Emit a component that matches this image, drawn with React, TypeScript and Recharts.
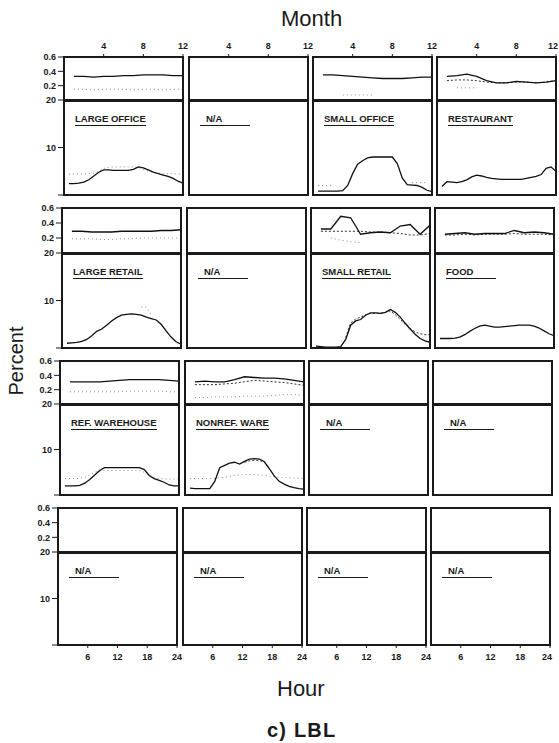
import React from 'react';
import { LineChart, Line, XAxis, YAxis } from 'recharts';

// axes
const months = [1, 2, 3, 4, 5, 6, 7, 8, 9, 10, 11, 12];
const hours = [1, 2, 3, 4, 5, 6, 7, 8, 9, 10, 11, 12, 13, 14, 15, 16, 17, 18, 19, 20, 21, 22, 23, 24];
const monthTicks = [4, 8, 12];
const hourTicks = [6, 12, 18, 24];
const shareTicks = [0.2, 0.4, 0.6];
const percentTicks = [0, 10, 20];

// LARGE OFFICE
const largeOfficeMonth = [0.33, 0.33, 0.32, 0.33, 0.33, 0.34, 0.34, 0.35, 0.35, 0.35, 0.34, 0.34];
const largeOfficeMonthDot = [0.15, 0.15, 0.14, 0.15, 0.15, 0.15, 0.14, 0.15, 0.15, 0.14, 0.15, 0.15];
const largeOfficeHour = [2.4, 2.4, 2.5, 2.7, 3.2, 4.0, 4.8, 5.3, 5.3, 5.2, 5.2, 5.2, 5.2, 5.4, 5.9, 5.7, 5.3, 4.8, 4.5, 4.2, 3.9, 3.5, 2.9, 2.5];
const largeOfficeHourDot = [4.4, 4.4, 4.4, 4.4, 4.5, 4.6, 5.0, 5.6, 5.8, 5.9, 5.9, 5.9, 5.9, 5.9, 5.8, 5.4, 5.0, 4.8, 4.6, 4.5, 4.5, 4.5, 4.4, 4.4];

// SMALL OFFICE
const smallOfficeMonth = [0.35, 0.35, 0.34, 0.33, 0.32, 0.31, 0.30, 0.30, 0.30, 0.31, 0.32, 0.32];
const smallOfficeMonthDot = [null, null, 0.07, 0.07, 0.07, 0.07, null, null, null, null, null, null];
const smallOfficeHour = [0.8, 0.8, 0.8, 0.8, 0.8, 0.9, 2.0, 4.5, 6.5, 7.2, 7.8, 8.0, 8.0, 8.0, 8.0, 8.0, 6.6, 3.6, 2.2, 2.1, 2.0, 1.6, 1.0, 0.7];
const smallOfficeHourDot = [2.0, 2.0, 2.0, 2.0, null, null, null, null, null, null, null, null, null, null, null, null, null, null, null, 2.6, 2.6, 2.6, 2.6, null];

// RESTAURANT
const restaurantMonth = [0.33, 0.34, 0.36, 0.33, 0.27, 0.24, 0.24, 0.26, 0.25, 0.24, 0.25, 0.27];
const restaurantMonthDash = [0.27, 0.28, 0.28, 0.27, 0.25, 0.24, 0.24, 0.25, 0.25, 0.24, 0.25, 0.27];
const restaurantMonthDot = [null, 0.17, 0.17, 0.17, null, null, null, null, null, null, null, null];
const restaurantHour = [1.8, 2.8, 2.7, 2.6, 2.8, 3.2, 3.8, 4.2, 4.0, 3.7, 3.5, 3.4, 3.3, 3.3, 3.3, 3.3, 3.3, 3.5, 3.7, 3.9, 4.3, 5.6, 5.9, 5.0];

// LARGE RETAIL
const largeRetailMonth = [0.29, 0.29, 0.28, 0.28, 0.28, 0.29, 0.29, 0.29, 0.29, 0.30, 0.30, 0.31];
const largeRetailMonthDot = [0.19, 0.19, 0.19, 0.18, 0.18, 0.19, 0.19, 0.2, 0.2, 0.2, 0.2, 0.2];
const largeRetailHour = [1.0, 1.1, 1.2, 1.4, 1.8, 2.6, 3.5, 4.0, 4.8, 5.7, 6.4, 6.9, 7.1, 7.2, 7.1, 6.9, 6.5, 6.2, 5.9, 5.0, 3.6, 2.3, 1.3, 0.8];
const largeRetailHourDot = [null, null, null, null, null, null, null, null, null, null, null, null, null, null, null, 8.6, 8.6, 7.0, null, null, null, null, null, null];

// SMALL RETAIL
const smallRetailMonth = [0.32, 0.32, 0.49, 0.47, 0.25, 0.27, 0.28, 0.27, 0.36, 0.38, 0.25, 0.37];
const smallRetailMonthDash = [0.29, 0.29, 0.29, 0.29, 0.29, 0.28, 0.28, 0.27, 0.26, 0.24, 0.24, 0.26];
const smallRetailMonthDot = [null, 0.2, 0.17, 0.15, 0.14, null, null, null, null, null, null, null];
const smallRetailHour = [0.4, 0.3, 0.2, 0.2, 0.2, 0.3, 1.8, 4.8, 5.7, 6.0, 6.9, 7.4, 7.4, 7.3, 7.5, 8.1, 7.5, 6.5, 5.2, 4.0, 2.9, 2.0, 1.5, 1.2];
const smallRetailHourDash = [null, null, null, null, null, null, 2.2, 5.3, 6.1, 6.5, 7.0, 7.3, 7.3, 7.3, 7.5, 7.8, 7.0, 6.0, 5.0, 4.1, 3.4, 3.0, 2.8, 2.8];

// FOOD
const foodMonth = [0.25, 0.26, 0.27, 0.25, 0.26, 0.26, 0.26, 0.30, 0.27, 0.28, 0.27, 0.25];
const foodMonthDash = [0.24, 0.24, 0.25, 0.24, 0.25, 0.25, 0.25, 0.26, 0.25, 0.25, 0.25, 0.24];
const foodHour = [2.0, 2.0, 2.0, 2.1, 2.3, 2.8, 3.5, 4.1, 4.6, 4.8, 4.6, 4.4, 4.4, 4.5, 4.6, 4.7, 4.8, 4.8, 4.8, 4.6, 4.2, 3.6, 3.0, 2.6];

// REF. WAREHOUSE
const refWareMonth = [0.31, 0.31, 0.31, 0.31, 0.32, 0.33, 0.34, 0.34, 0.34, 0.34, 0.33, 0.32];
const refWareMonthDot = [0.17, 0.17, 0.17, 0.17, 0.17, 0.17, 0.18, 0.18, 0.18, 0.18, 0.17, 0.17];
const refWareHour = [2.0, 2.0, 2.0, 2.1, 2.6, 3.4, 4.4, 5.4, 6.0, 6.0, 6.0, 6.0, 6.0, 6.0, 6.0, 6.0, 5.6, 4.3, 3.6, 3.2, 2.8, 2.2, 2.0, 2.0];
const refWareHourDot = [3.6, 3.6, 3.6, 3.7, 3.9, 4.4, 5.0, 5.3, 5.4, 5.4, 5.4, 5.4, 5.4, 5.4, 5.4, 5.4, 5.0, 4.3, 3.8, 3.6, 3.5, 3.5, 3.5, 3.5];

// NONREF. WARE
const nonrefMonth = [0.31, 0.32, 0.31, 0.31, 0.34, 0.38, 0.37, 0.36, 0.36, 0.35, 0.33, 0.31];
const nonrefMonthDash = [0.27, 0.27, 0.27, 0.28, 0.29, 0.31, 0.33, 0.32, 0.31, 0.30, 0.28, 0.26];
const nonrefMonthDot = [0.09, 0.09, 0.1, 0.1, 0.1, 0.11, 0.11, 0.11, 0.12, 0.13, 0.13, 0.12];
const nonrefHour = [1.5, 1.4, 1.4, 1.4, 1.4, 3.0, 6.0, 6.5, 7.0, 7.2, 6.8, 7.4, 7.9, 8.0, 7.9, 7.3, 5.8, 4.2, 3.0, 2.4, 1.9, 1.6, 1.4, 1.3];
const nonrefHourDash = [null, null, null, null, null, null, null, null, null, null, null, 7.2, 7.5, 7.6, 7.6, 7.2, 6.0, null, null, null, null, null, null, null];
const nonrefHourDot = [3.6, 3.6, 3.6, 3.6, 3.6, 3.7, 3.8, 3.9, 4.1, 4.3, 4.4, 4.5, 4.5, 4.5, 4.4, 4.3, 4.1, 4.0, 3.9, 3.8, 3.8, 3.7, 3.7, 3.6];

type Series = (number | null)[] | undefined;
interface PanelSpec {
  label: string;
  na?: boolean;
  mSolid?: Series; mDash?: Series; mDot?: Series;
  hSolid?: Series; hDash?: Series; hDot?: Series;
}

const NA: PanelSpec = { label: 'N/A', na: true };

const grid: PanelSpec[][] = [
  [
    { label: 'LARGE OFFICE', mSolid: largeOfficeMonth, mDot: largeOfficeMonthDot, hSolid: largeOfficeHour, hDot: largeOfficeHourDot },
    NA,
    { label: 'SMALL OFFICE', mSolid: smallOfficeMonth, mDot: smallOfficeMonthDot, hSolid: smallOfficeHour, hDot: smallOfficeHourDot },
    { label: 'RESTAURANT', mSolid: restaurantMonth, mDash: restaurantMonthDash, mDot: restaurantMonthDot, hSolid: restaurantHour },
  ],
  [
    { label: 'LARGE RETAIL', mSolid: largeRetailMonth, mDot: largeRetailMonthDot, hSolid: largeRetailHour, hDot: largeRetailHourDot },
    NA,
    { label: 'SMALL RETAIL', mSolid: smallRetailMonth, mDash: smallRetailMonthDash, mDot: smallRetailMonthDot, hSolid: smallRetailHour, hDash: smallRetailHourDash },
    { label: 'FOOD', mSolid: foodMonth, mDash: foodMonthDash, hSolid: foodHour },
  ],
  [
    { label: 'REF. WAREHOUSE', mSolid: refWareMonth, mDot: refWareMonthDot, hSolid: refWareHour, hDot: refWareHourDot },
    { label: 'NONREF. WARE', mSolid: nonrefMonth, mDash: nonrefMonthDash, mDot: nonrefMonthDot, hSolid: nonrefHour, hDash: nonrefHourDash, hDot: nonrefHourDot },
    NA,
    NA,
  ],
  [NA, NA, NA, NA],
];

// page layout (scan is slightly skewed, so rows drift left)
const colLeft = [64, 189, 313, 437];
const rowShift = [0, -2, -4, -6];
const rowBox = [
  { top: 57, mid: 100, bot: 195 },
  { top: 208, mid: 253, bot: 348 },
  { top: 361, mid: 404, bot: 495 },
  { top: 508, mid: 552, bot: 645 },
];
const PANEL_W = 119;
const FONT = '"Liberation Sans", Arial, sans-serif';
const INK = '#1a1a1a';

const build = (xs: number[], solid: Series, dash: Series, dot: Series) =>
  xs.map((x, i) => ({
    x,
    solid: solid ? solid[i] : null,
    dash: dash ? dash[i] : null,
    dot: dot ? dot[i] : null,
  }));

const tickStyle = { fontSize: 9, fill: INK, fontWeight: 700, fontFamily: FONT };

interface SectionProps {
  left: number; top: number; w: number; h: number;
  rows: any[];
  xDomain: [number, number];
  yDomain: [number, number];
  yTicks: number[];
  xTicks: number[];
  showY: boolean;
  axisPos: 'top' | 'bottom' | null;
  lastCol: boolean;
}

function Section({ left, top, w, h, rows, xDomain, yDomain, yTicks, xTicks, showY, axisPos, lastCol }: SectionProps) {
  const P = 8;
  const yW = showY ? 34 : 0;
  const tH = axisPos === 'top' ? 20 : 0;
  const bH = axisPos === 'bottom' ? 22 : 0;
  const xMax = xDomain[1];

  // keep the right-most label of the last column inside the page
  const renderXTick = (props: any) => {
    const { x, y, payload } = props;
    const dx = lastCol && payload.value === xMax ? -3 : 0;
    const dy = axisPos === 'top' ? -1 : 8;
    return (
      <text x={x + dx} y={y + dy} textAnchor="middle" {...tickStyle}>
        {payload.value}
      </text>
    );
  };

  return (
    <div style={{ position: 'absolute', left: left - yW - P, top: top - tH - P }}>
      <LineChart
        width={w + yW + 2 * P}
        height={h + tH + bH + 2 * P}
        data={rows}
        margin={{ top: P, right: P, bottom: P, left: P }}
      >
        <XAxis
          type="number"
          dataKey="x"
          domain={xDomain}
          ticks={xTicks}
          interval={0}
          orientation={axisPos === 'top' ? 'top' : 'bottom'}
          hide={axisPos === null}
          height={axisPos === 'top' ? tH : bH}
          axisLine={false}
          tickLine={{ stroke: INK }}
          tickSize={3}
          tickMargin={4}
          tick={renderXTick}
          allowDataOverflow
        />
        <YAxis
          type="number"
          domain={yDomain}
          ticks={yTicks}
          interval={0}
          hide={!showY}
          width={yW}
          axisLine={false}
          tickLine={{ stroke: INK }}
          tickSize={6}
          tickMargin={2}
          tick={tickStyle}
          tickFormatter={(v: number) => (v === 0 ? '' : String(v))}
          allowDataOverflow
        />
        <Line dataKey="dot" stroke="#8a8a8a" strokeWidth={1} strokeDasharray="1 3" dot={false} isAnimationActive={false} connectNulls={false} />
        <Line dataKey="dash" stroke="#333" strokeWidth={1} strokeDasharray="2 2" dot={false} isAnimationActive={false} connectNulls={false} />
        <Line dataKey="solid" stroke="#111" strokeWidth={1.3} dot={false} isAnimationActive={false} connectNulls={false} />
      </LineChart>
    </div>
  );
}

function Panel({ spec, r, c }: { spec: PanelSpec; r: number; c: number }) {
  const box = rowBox[r];
  const left = colLeft[c] + rowShift[r];
  const w = PANEL_W;
  const monthRows = build(months, spec.mSolid, spec.mDash, spec.mDot);
  const hourRows = build(hours, spec.hSolid, spec.hDash, spec.hDot);
  return (
    <>
      <Section
        left={left} top={box.top} w={w} h={box.mid - box.top}
        rows={monthRows} xDomain={[0, 12]} yDomain={[0, 0.6]}
        yTicks={shareTicks} xTicks={monthTicks}
        showY={c === 0} axisPos={r === 0 ? 'top' : null} lastCol={c === 3}
      />
      <Section
        left={left} top={box.mid} w={w} h={box.bot - box.mid}
        rows={hourRows} xDomain={[0, 24]} yDomain={[0, 20]}
        yTicks={percentTicks} xTicks={hourTicks}
        showY={c === 0} axisPos={r === 3 ? 'bottom' : null} lastCol={c === 3}
      />
      {/* frame */}
      <div style={{
        position: 'absolute', left: left - 1, top: box.top - 1, width: w + 2, height: box.bot - box.top + 2,
        border: `2px solid ${INK}`, boxSizing: 'border-box', pointerEvents: 'none',
      }} />
      <div style={{
        position: 'absolute', left: left - 1, top: box.mid - 1, width: w + 2, height: 2.5,
        background: INK, pointerEvents: 'none',
      }} />
      {/* building type label */}
      <div style={{ position: 'absolute', left: left + 11, top: box.mid + 8, fontFamily: FONT }}>
        <span style={{
          display: 'inline-block', minWidth: 50, boxSizing: 'border-box',
          paddingLeft: spec.na ? 6 : 0, paddingBottom: 1,
          borderBottom: `1.2px solid ${INK}`,
          fontSize: 9.5, fontWeight: 700, lineHeight: '10px', color: INK, whiteSpace: 'nowrap',
        }}>
          {spec.label}
        </span>
      </div>
    </>
  );
}

export default function App() {
  return (
    <div style={{ position: 'absolute', left: 0, top: 0, width: 559, height: 743, background: '#fff', overflow: 'hidden', fontFamily: FONT }}>
      <div style={{ position: 'absolute', left: 281, top: 7, fontSize: 22, color: INK, lineHeight: '24px' }}>Month</div>
      <div style={{
        position: 'absolute', left: 16, top: 361, fontSize: 20, color: INK, lineHeight: '24px',
        transform: 'translate(-50%, -50%) rotate(-90deg)', whiteSpace: 'nowrap',
      }}>Percent</div>
      <div style={{ position: 'absolute', left: 277, top: 677, fontSize: 22, color: INK, lineHeight: '24px' }}>Hour</div>
      <div style={{ position: 'absolute', left: 267, top: 719, fontSize: 20, fontWeight: 700, letterSpacing: 1.2, color: INK, lineHeight: '22px' }}>c) LBL</div>
      {grid.map((row, r) => row.map((spec, c) => <Panel key={`${r}-${c}`} spec={spec} r={r} c={c} />))}
    </div>
  );
}
